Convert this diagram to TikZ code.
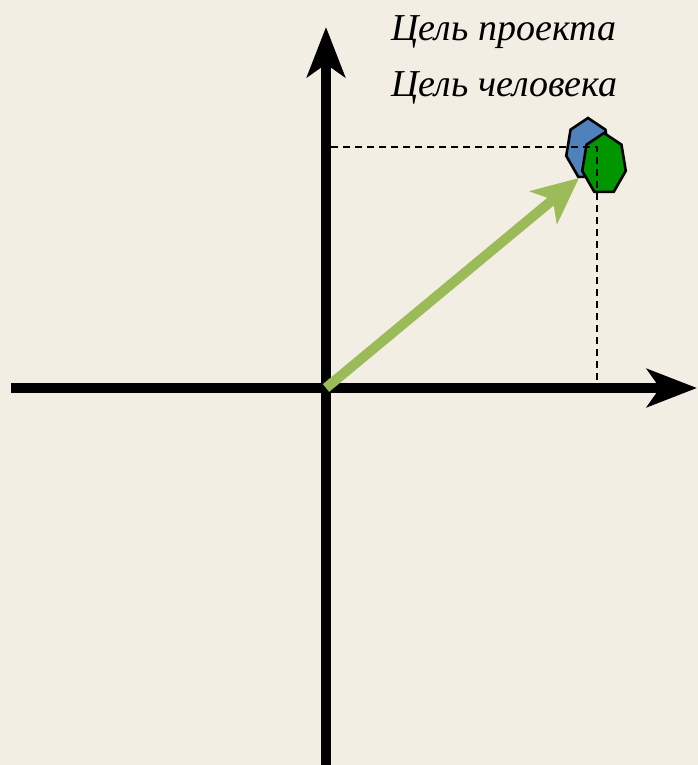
\documentclass[tikz,border=0pt]{standalone}
\usepackage{fontspec}
\setmainfont{Liberation Serif}
\usetikzlibrary{arrows.meta,shapes.geometric}
\definecolor{paper}{RGB}{243,238,228}
\definecolor{goalblue}{RGB}{79,129,189}
\definecolor{goalgreen}{RGB}{0,150,0}
\definecolor{vecgreen}{RGB}{155,187,89}

\begin{document}
\begin{tikzpicture}[x=1pt, y=-1pt,
  axis/.style={line width=10pt, -{Stealth[length=50pt, width=38pt, inset=13pt]}},
  vector/.style={vecgreen, line width=10pt, -{Stealth[length=46pt, width=42pt, inset=12pt]}},
  goal/.style={draw, line width=2.6pt, regular polygon, regular polygon sides=7,
    minimum size=62pt, inner sep=0pt, xscale=0.72},
  guide/.style={line width=1.4pt, dash pattern=on 7pt off 5pt},
  label/.style={font=\fontsize{38}{40}\selectfont\itshape, anchor=base west}]
  \fill[paper] (0,0) rectangle (698,765);
  \useasboundingbox (0,0) rectangle (698,765);

  \coordinate (O) at (326,388);
  \coordinate (xstart) at (11,388);
  \coordinate (xend) at (697,388);
  \coordinate (ystart) at (326,765);
  \coordinate (yend) at (326,27);
  \draw[axis] (xstart) -- (xend);
  \draw[axis] (ystart) -- (yend);

  \node[goal, fill=goalblue] (project) at (588,149) {};
  \node[goal, fill=goalgreen] (human) at (604,164) {};

  \coordinate (hy) at (331,147);
  \coordinate (corner) at (597,147);
  \coordinate (hx) at (597,381);
  \draw[guide] (hy) -- (corner) -- (hx);

  \coordinate (tip) at (579,178);
  \draw[vector] (O) -- (tip);

  \node[label] (projlabel) at (388,41) {Цель проекта};
  \node[label] (humanlabel) at (388,97) {Цель человека};
\end{tikzpicture}
\end{document}
